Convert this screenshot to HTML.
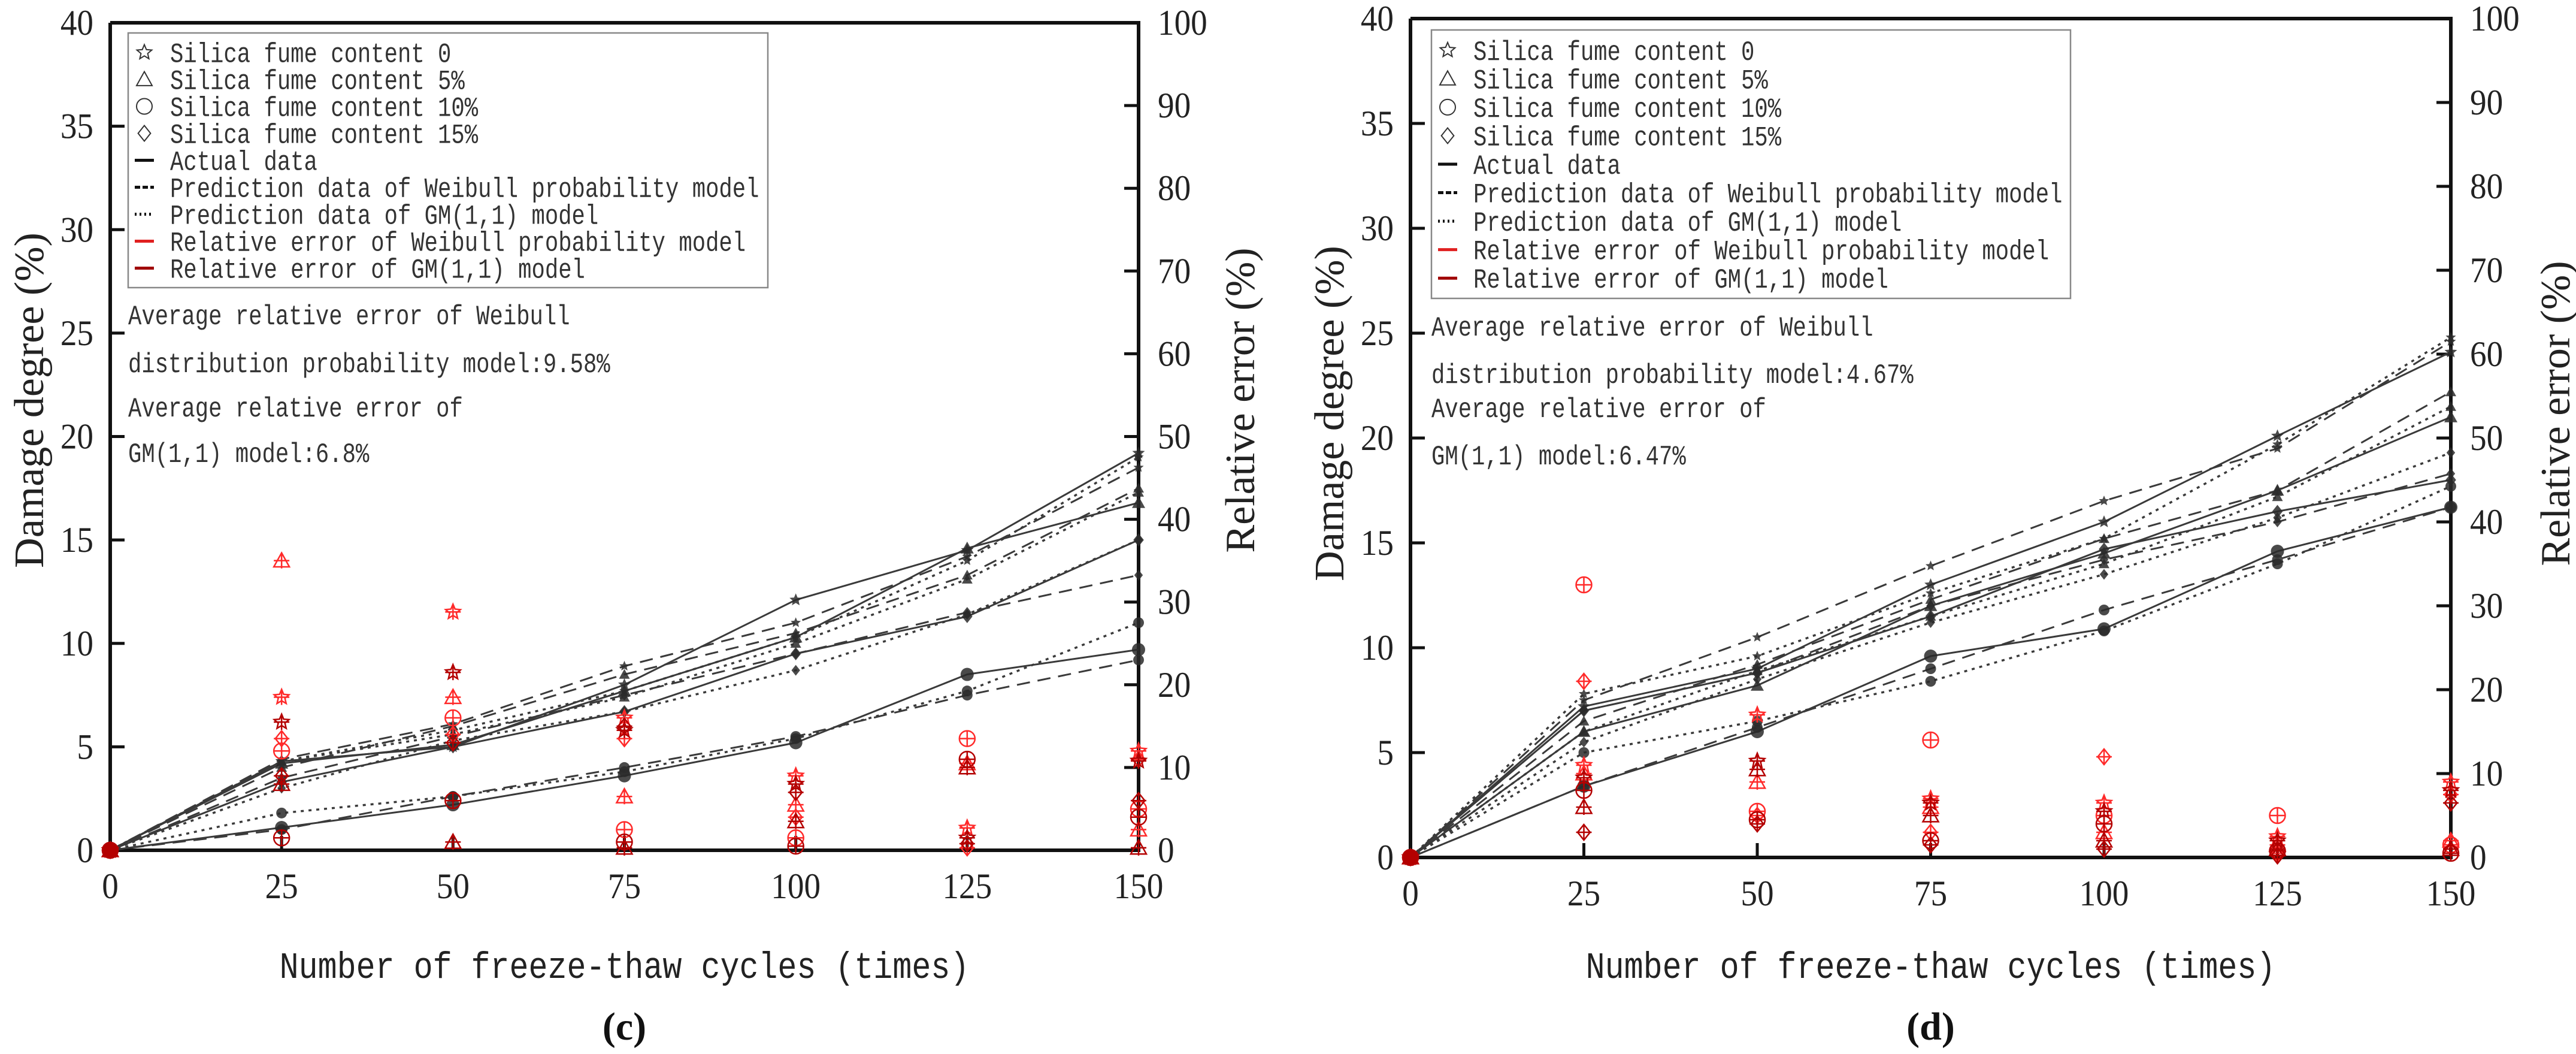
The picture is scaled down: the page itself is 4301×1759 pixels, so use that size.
<!DOCTYPE html>
<html><head><meta charset="utf-8"><style>
html,body{margin:0;padding:0;background:#fff;}
svg{display:block;}
.tick{font-family:"Liberation Serif",serif;font-size:60px;fill:#222;}
.ttl{font-family:"Liberation Serif",serif;font-size:70px;fill:#222;}
.mono{font-family:"Liberation Mono",monospace;font-size:46px;fill:#333;}
.xt{font-family:"Liberation Mono",monospace;font-size:62px;fill:#222;}
</style></head><body>
<svg id="fig" width="4301" height="1759" viewBox="0 0 4301 1759" xmlns="http://www.w3.org/2000/svg"></svg>
<script>
const cycles = [0,25,50,75,100,125,150];
const leftTicks = [0,5,10,15,20,25,30,35,40];
const rightTicks = [0,10,20,30,40,50,60,70,80,90,100];
const seriesNames = ["Silica fume content 0","Silica fume content 5%","Silica fume content 10%","Silica fume content 15%"];
const seriesShapes = ["star","triangle","circle","diamond"];
// panel (c)
const cActual = [[0,4.3,5.0,8.0,12.1,14.5,19.2],[0,4.2,5.1,7.7,10.3,14.6,16.8],[0,1.1,2.2,3.6,5.2,8.5,9.7],[0,3.3,5.0,6.7,9.5,11.3,15.0]];
const cWeibull = [[0,4.4,6.1,8.9,11.0,14.2,18.5],[0,4.0,6.0,8.5,10.5,13.3,17.5],[0,1.0,2.6,4.0,5.5,7.5,9.2],[0,3.5,5.5,7.5,9.5,11.5,13.3]];
const cGM = [[0,4.3,5.8,7.7,10.3,14.0,19.0],[0,4.3,5.6,7.4,10.0,13.1,17.3],[0,1.8,2.6,3.8,5.4,7.7,11.0],[0,3.0,5.3,6.7,8.7,11.4,15.0]];
const cErrW = [[0,18.5,28.8,16,9,2.7,12],[0,35,18.5,6.5,5.5,10.5,2.5],[0,12,16,2.5,1.5,13.5,5],[0,13.5,14,13.5,4,0.3,11]];
const cErrG = [[0,15.5,21.5,14.5,8,1.5,10.8],[0,8,1,0.3,3.5,10,0.3],[0,1.5,6,1,0.5,11,4],[0,9,13,15,7,0.8,6]];
const cNotes = ["Average relative error of Weibull","distribution probability model:9.58%","Average relative error of","GM(1,1) model:6.8%"];
// panel (d)
const dActual = [[0,7.2,9.0,13.0,16.0,20.1,24.1],[0,6.0,8.2,12.0,14.5,17.5,21.0],[0,3.4,6.0,9.6,10.9,14.6,16.7],[0,7.0,8.8,11.5,14.7,16.5,18.0]];
const dWeibull = [[0,7.5,10.5,13.9,17.0,19.5,24.6],[0,6.5,9.2,12.3,15.2,17.5,22.2],[0,3.4,6.2,9.0,11.8,14.2,16.7],[0,7.0,8.8,12.0,14.2,16.0,18.3]];
const dGM = [[0,7.8,9.6,12.6,15.2,19.7,24.8],[0,6.0,8.9,11.5,14.0,17.2,21.5],[0,5.0,6.5,8.4,10.8,14.0,17.7],[0,5.5,8.5,11.2,13.5,16.2,19.3]];
const dErrW = [[0,11,17,7,6.5,2.5,9],[0,10,9,6,3,1.5,2],[0,32.5,5.5,14,5,5,1.5],[0,21,5,3,12,0.5,7.5]];
const dErrG = [[0,9.5,11.5,6.5,5.5,2,8],[0,6,10.5,5,2,1,1],[0,8,4.5,2,4,0.8,0.5],[0,3,4,1.5,1,0.2,6.5]];
const dNotes = ["Average relative error of Weibull","distribution probability model:4.67%","Average relative error of","GM(1,1) model:6.47%"];
const legendLabels = ["Silica fume content 0","Silica fume content 5%","Silica fume content 10%","Silica fume content 15%","Actual data","Prediction data of Weibull probability model","Prediction data of GM(1,1) model","Relative error of Weibull probability model","Relative error of GM(1,1) model"];

const NS="http://www.w3.org/2000/svg";
const svg=document.getElementById('fig');
function mk(tag,attrs,parent){const e=document.createElementNS(NS,tag);for(const k in attrs)e.setAttribute(k,attrs[k]);(parent||svg).appendChild(e);return e;}
function ctext(parent,x,y,str,cls,anchor,s){
  const e=mk('text',{x:0,y:0,class:cls,'text-anchor':anchor,transform:`translate(${x},${y}) scale(${s},1)`},parent);
  e.textContent=str;return e;
}
function shapePath(shape,x,y,r){
  if(shape==="circle")return `M${x-r},${y}a${r},${r} 0 1,0 ${2*r},0a${r},${r} 0 1,0 ${-2*r},0Z`;
  if(shape==="triangle")return `M${x},${y-r}L${x+r},${y+r*0.8}L${x-r},${y+r*0.8}Z`;
  if(shape==="diamond")return `M${x},${y-r}L${x+r*0.8},${y}L${x},${y+r}L${x-r*0.8},${y}Z`;
  let p="";for(let i=0;i<10;i++){const a=-Math.PI/2+i*Math.PI/5;const rr=i%2?r*0.45:r;p+=(i?"L":"M")+(x+rr*Math.cos(a)).toFixed(1)+","+(y+rr*Math.sin(a)).toFixed(1);}return p+"Z";
}
function panel(P){
  const g=mk('g',{});
  
  
  const sx=v=>P.x0+(P.x1-P.x0)*v/150;
  const sy=v=>P.y0-(P.y0-P.yt)*v/40;
  const sr=v=>P.y0-(P.y0-P.yt)*v/100;
  const fr=mk('path',{d:`M${P.x0},${P.yt}V${P.y0}H${P.x1}V${P.yt}H${P.x0}`,fill:'none',stroke:'#111','stroke-width':6},g);
  
  leftTicks.forEach(t=>{
    const y=sy(t);
    if(t>0&&t<40){const tk=mk('line',{x1:P.x0,x2:P.x0+24,y1:y,y2:y,stroke:'#111','stroke-width':5},g);}
    const tx=ctext(g,P.x0-28,y+20,String(t),'tick','end',0.92);
    
  });
  rightTicks.forEach(t=>{
    const y=sr(t);
    if(t>0&&t<100){const tk=mk('line',{x1:P.x1-24,x2:P.x1,y1:y,y2:y,stroke:'#111','stroke-width':5},g);}
    const tx=ctext(g,P.x1+32,y+20,String(t),'tick','start',0.92);
    
  });
  cycles.forEach(c=>{
    const x=sx(c);
    if(c>0&&c<150){const tk=mk('line',{x1:x,x2:x,y1:P.y0,y2:P.y0-24,stroke:'#111','stroke-width':5},g);}
    const tx=ctext(g,x,P.y0+80,String(c),'tick','middle',0.92);
    
  });
  let t=mk('text',{x:0,y:0,'text-anchor':'middle',class:'ttl',transform:`translate(${P.ltx},${P.tcy}) rotate(-90)`},g);t.textContent="Damage degree (%)";
  
  t=mk('text',{x:0,y:0,'text-anchor':'middle',class:'ttl',transform:`translate(${P.rtx},${P.tcy}) rotate(-90)`},g);t.textContent="Relative error (%)";
  
  t=ctext(g,(P.x0+P.x1)/2,1632,"Number of freeze-thaw cycles (times)",'xt','middle',0.86);
  
  t=mk('text',{x:(P.x0+P.x1)/2,y:1735,'text-anchor':'middle','font-family':'Liberation Serif, serif','font-size':66,'font-weight':'bold',fill:'#111'},g);t.textContent=P.tag;
  
  const styles=[[P.actual,'none',3],[P.weibull,'22 13',3],[P.gm,'5 8',3.5]];
  styles.forEach(([data,dash,w],mi)=>{
    data.forEach((vals,si)=>{
      const d=vals.map((v,i)=>(i?'L':'M')+sx(cycles[i]).toFixed(1)+','+sy(v).toFixed(1)).join('');
      const ln=mk('path',{d,fill:'none',stroke:'#3a3a3a','stroke-width':w,'stroke-dasharray':dash},g);
      
      
      vals.forEach((v,i)=>{
        const m=mk('path',{d:shapePath(seriesShapes[si],sx(cycles[i]),sy(v),mi===0?11:9),fill:'#2a2a2a','fill-opacity':0.85},g);
        
        
      });
    });
  });
  [[P.errW,'#ff2a2a'],[P.errG,'#b40000']].forEach(([data,col],mi)=>{
    data.forEach((vals,si)=>{
      vals.forEach((v,i)=>{
        const x=sx(cycles[i]),y=sr(v),r=13;
        const em=mk('path',{d:shapePath(seriesShapes[si],x,y,r)+`M${x-r},${y}H${x+r}M${x},${y-r}V${y+r}`,fill:i===0?col:'none',stroke:col,'stroke-width':2.5},g);
        
        
      });
    });
  });
  const lg=mk('g',{},g);
  
  const lb=mk('rect',{x:P.lx,y:P.ly,width:P.lw,height:P.lh,fill:'#fff',stroke:'#888','stroke-width':2.5},lg);
  
  const rs=(P.lh-20)/9;
  legendLabels.forEach((lab,i)=>{
    const cy=P.ly+10+rs*(i+0.5);
    const sxp=P.lx+27;
    if(i<4){const s=mk('path',{d:shapePath(seriesShapes[i],sxp,cy,13),fill:'none',stroke:'#333','stroke-width':2},lg);}
    else{
      const dash=[null,'none','9 4','3 5','none','none'][i-3];
      const col=i===7?'#e02020':(i===8?'#a00000':'#111');
      const s=mk('line',{x1:sxp-16,x2:sxp+16,y1:cy,y2:cy,stroke:col,'stroke-width':5,'stroke-dasharray':dash},lg);
      
    }
    const tx=ctext(lg,P.lx+70,cy+16,lab,'mono','start',0.81);
    
  });
  P.notes.forEach((n,i)=>{
    const tx=ctext(g,P.lx,P.noteY[i]+16,n,'mono','start',0.81);
    
  });
}
panel({name:'panel-c',tag:'(c)',x0:184,x1:1901,y0:1419,yt:38,ltx:72,rtx:2094,tcy:668,
  actual:cActual,weibull:cWeibull,gm:cGM,errW:cErrW,errG:cErrG,notes:cNotes,noteY:[525,605,679,755],
  lx:214,ly:55,lw:1068,lh:425});
panel({name:'panel-d',tag:'(d)',x0:2355,x1:4092,y0:1431,yt:31,ltx:2243,rtx:4290,tcy:690,
  actual:dActual,weibull:dWeibull,gm:dGM,errW:dErrW,errG:dErrG,notes:dNotes,noteY:[544,623,680,759],
  lx:2390,ly:50,lw:1067,lh:448});
</script>
</body></html>
